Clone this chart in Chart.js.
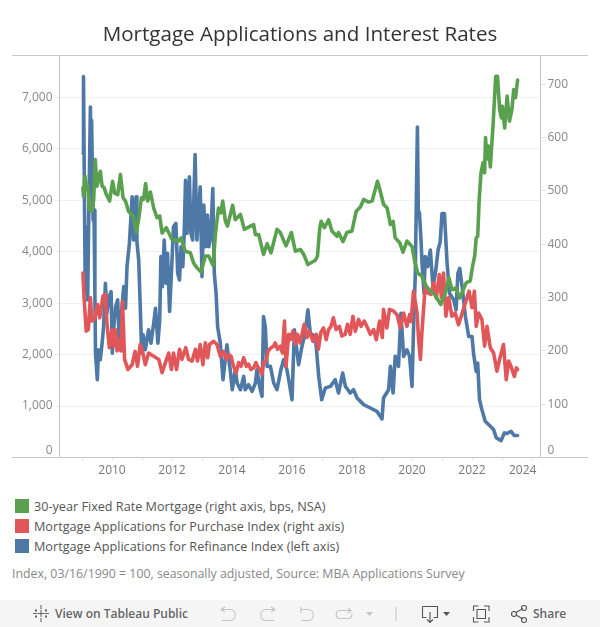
<!DOCTYPE html>
<html>
<head>
<meta charset="utf-8">
<title>Mortgage Applications and Interest Rates</title>
<script src="https://cdn.jsdelivr.net/npm/chart.js@4"></script>
<style>
  html, body { margin: 0; padding: 0; background: #fff; overflow: hidden; }
  body { width: 600px; height: 627px; position: relative; font-family: "Open Sans", sans-serif; }
  #chart { position: absolute; left: 0; top: 0; }
  .title { position: absolute; left: 0; width: 600px; top: 19px; text-align: center; font-size: 20.6px; font-weight: 500; line-height: 28px; color: #333; }
  .rule { position: absolute; left: 12px; width: 576px; height: 1px; background: #c8c8c8; }
  .key { position: absolute; left: 15px; width: 14px; height: 14px; }
  .label { position: absolute; left: 34px; font-size: 12.65px; line-height: 16px; color: #555; white-space: nowrap; }
  .note { position: absolute; left: 12px; top: 566px; font-size: 12.35px; line-height: 16px; color: #888; white-space: nowrap; }
  .bar { position: absolute; left: 0; top: 600px; width: 600px; height: 27px; background: #f5f5f5; }
  .bar span { position: absolute; top: 5px; font-size: 12px; line-height: 17px; color: #666; font-weight: 600; white-space: nowrap; }
  .bar svg { position: absolute; left: 0; top: 0; }
</style>
</head>
<body>
<canvas id="chart" width="600" height="480"></canvas>
<div class="title">Mortgage Applications and Interest Rates</div>
<div class="rule" style="top:55px"></div>
<div class="key" style="top:499px;background:#59a14f"></div>
<div class="label" style="top:498px">30-year Fixed Rate Mortgage (right axis, bps, NSA)</div>
<div class="key" style="top:519px;background:#e15759"></div>
<div class="label" style="top:518px">Mortgage Applications for Purchase Index (right axis)</div>
<div class="key" style="top:539px;background:#4e79a7"></div>
<div class="label" style="top:538px">Mortgage Applications for Refinance Index (left axis)</div>
<div class="note">Index, 03/16/1990 = 100, seasonally adjusted, Source: MBA Applications Survey</div>
<div class="bar">
  <svg width="600" height="27" fill="none" stroke-width="1.1">
    <path d="M41 5v4M41 18v4M33 13.500h4M45 13.500h4M41 10v7M37.500 13.500h7M36 9v3M36 15v3M46 9v3M46 15v3M35 10.500h2M45 10.500h2M35 16.500h2M45 16.500h2" stroke="#666"/>
    <g stroke="#c4c4c4">
      <path d="M225 7l-4 2.500 4 2.500M221 9.500h9c7 0 7 11 0 11h-8"/>
      <path d="M271 7l4 2.500-4 2.500M275 9.500h-9c-7 0-7 11 0 11h8"/>
      <path d="M301 7v6M301 9.500h7c7 0 7 11 0 11h-7"/>
      <path d="M348 8l3 2.500-3 2.500M351 10.500h-11c-5 0-5 8 0 8h8c3 0 4-2 4-5"/>
    </g>
    <path d="M366 12h7l-3.500 4z" fill="#c4c4c4"/>
    <path d="M396 7v14" stroke="#c8c8c8"/>
    <g stroke="#555">
      <path d="M422.500 6.500h15v11h-4M426.500 17.500h-4v-11M430 12v10M427 19.500l3 3 3-3"/>
      <path d="M473.500 11v-5h5M484 6h5v5M489 17v5h-5M478.500 22h-5v-5M477 9.500h8.500v9h-8.500z"/>
      <path d="M516 12.500l7-4M516 15l7 4"/>
      <circle cx="514" cy="14" r="2.500"/><circle cx="524" cy="8" r="2.500"/><circle cx="524" cy="20" r="2.500"/>
    </g>
    <path d="M443 12h7l-3.500 4z" fill="#555"/>
  </svg>
  <span style="left:55px">View on Tableau Public</span>
  <span style="left:533px">Share</span>
</div>
<script>
// [year, bps]
const rateSeries = [[2009.03,506],[2009.05,490],[2009.10,528],[2009.14,503],[2009.19,512],[2009.25,465],[2009.33,462],[2009.39,484],[2009.44,559],[2009.50,509],[2009.55,520],[2009.61,537],[2009.67,509],[2009.74,506],[2009.80,495],[2009.92,481],[2010.02,518],[2010.09,496],[2010.19,493],[2010.28,531],[2010.37,487],[2010.45,481],[2010.55,462],[2010.70,453],[2010.81,423],[2010.89,447],[2010.98,487],[2011.05,484],[2011.12,514],[2011.19,481],[2011.28,498],[2011.39,468],[2011.50,450],[2011.59,453],[2011.67,421],[2011.81,431],[2012.00,409],[2012.22,406],[2012.30,412],[2012.44,387],[2012.61,384],[2012.72,365],[2012.83,356],[2012.97,348],[2013.11,378],[2013.22,378],[2013.37,360],[2013.45,421],[2013.55,468],[2013.63,459],[2013.69,481],[2013.78,443],[2013.85,434],[2014.02,473],[2014.11,446],[2014.28,456],[2014.41,428],[2014.55,432],[2014.72,437],[2014.78,418],[2014.89,418],[2015.05,381],[2015.17,401],[2015.30,384],[2015.50,428],[2015.61,422],[2015.80,397],[2015.98,422],[2016.11,387],[2016.28,390],[2016.39,381],[2016.53,362],[2016.78,370],[2016.85,378],[2016.92,428],[2016.97,443],[2017.08,431],[2017.22,446],[2017.33,425],[2017.50,415],[2017.55,422],[2017.70,405],[2017.83,422],[2018.00,425],[2018.14,462],[2018.28,470],[2018.39,484],[2018.55,479],[2018.67,481],[2018.85,518],[2018.94,500],[2019.05,475],[2019.17,468],[2019.28,437],[2019.37,443],[2019.44,412],[2019.59,403],[2019.70,385],[2019.83,406],[2020.00,396],[2020.08,371],[2020.19,346],[2020.33,340],[2020.48,321],[2020.61,312],[2020.75,306],[2020.96,287],[2021.11,309],[2021.23,337],[2021.33,315],[2021.47,318],[2021.59,299],[2021.81,328],[2021.94,331],[2022.02,359],[2022.09,378],[2022.14,412],[2022.19,415],[2022.24,484],[2022.30,534],[2022.37,553],[2022.42,534],[2022.45,600],[2022.50,560],[2022.55,584],[2022.61,545],[2022.70,622],[2022.79,715],[2022.85,715],[2022.92,653],[2022.98,637],[2023.01,659],[2023.09,618],[2023.17,678],[2023.25,631],[2023.33,653],[2023.39,690],[2023.45,675],[2023.52,708]];

// [year, index]
const purchaseSeries = [[2009.03,346],[2009.07,300],[2009.14,237],[2009.21,240],[2009.28,300],[2009.33,256],[2009.42,259],[2009.52,287],[2009.59,262],[2009.70,303],[2009.78,306],[2009.83,253],[2009.91,206],[2010.00,240],[2010.05,209],[2010.11,240],[2010.17,200],[2010.25,221],[2010.30,200],[2010.35,293],[2010.42,184],[2010.53,165],[2010.67,174],[2010.77,199],[2010.85,171],[2010.94,212],[2011.03,196],[2011.11,174],[2011.22,196],[2011.39,190],[2011.56,184],[2011.67,159],[2011.78,178],[2011.89,196],[2011.98,165],[2012.05,196],[2012.15,165],[2012.25,203],[2012.33,184],[2012.46,206],[2012.55,184],[2012.67,181],[2012.78,203],[2012.85,181],[2012.94,212],[2013.03,174],[2013.11,215],[2013.19,187],[2013.25,212],[2013.39,218],[2013.50,212],[2013.61,190],[2013.72,199],[2013.81,184],[2013.89,193],[2013.97,190],[2014.05,171],[2014.14,159],[2014.22,178],[2014.30,171],[2014.39,187],[2014.48,171],[2014.55,175],[2014.63,165],[2014.72,168],[2014.80,178],[2014.85,171],[2014.92,165],[2015.00,156],[2015.05,178],[2015.13,181],[2015.20,199],[2015.30,206],[2015.39,209],[2015.44,215],[2015.52,203],[2015.61,209],[2015.68,196],[2015.75,256],[2015.80,171],[2015.89,231],[2015.94,221],[2016.03,237],[2016.11,212],[2016.18,231],[2016.27,215],[2016.41,250],[2016.50,225],[2016.58,237],[2016.70,218],[2016.81,231],[2016.88,203],[2016.96,234],[2017.05,243],[2017.14,221],[2017.22,240],[2017.30,246],[2017.38,262],[2017.47,240],[2017.58,246],[2017.66,228],[2017.77,231],[2017.85,250],[2017.94,231],[2018.03,265],[2018.11,237],[2018.22,259],[2018.30,246],[2018.41,256],[2018.52,243],[2018.61,231],[2018.72,240],[2018.81,221],[2018.92,256],[2019.01,225],[2019.05,278],[2019.16,243],[2019.25,278],[2019.38,275],[2019.50,268],[2019.61,243],[2019.72,271],[2019.83,246],[2019.92,268],[2019.97,255],[2020.05,312],[2020.17,271],[2020.22,221],[2020.28,184],[2020.33,234],[2020.44,321],[2020.52,309],[2020.63,306],[2020.72,328],[2020.81,299],[2020.91,343],[2020.98,300],[2021.05,346],[2021.13,265],[2021.22,300],[2021.33,265],[2021.44,271],[2021.55,249],[2021.78,290],[2021.90,312],[2022.00,281],[2022.08,312],[2022.14,246],[2022.22,271],[2022.33,259],[2022.42,209],[2022.50,246],[2022.61,206],[2022.72,196],[2022.83,162],[2022.92,184],[2023.05,212],[2023.14,146],[2023.22,181],[2023.30,171],[2023.41,152],[2023.48,168],[2023.52,165]];

// [year, index]
const refinanceSeries = [[2009.04,5904],[2009.05,7403],[2009.08,5129],[2009.11,3191],[2009.14,4483],[2009.19,3062],[2009.22,4483],[2009.28,6809],[2009.30,5775],[2009.32,6550],[2009.37,4612],[2009.40,4806],[2009.43,3191],[2009.45,2028],[2009.51,1511],[2009.55,2093],[2009.61,1899],[2009.67,2222],[2009.72,2545],[2009.78,3385],[2009.83,2803],[2009.90,3126],[2009.97,3223],[2010.01,2028],[2010.07,2610],[2010.12,2933],[2010.19,3062],[2010.25,2093],[2010.32,2836],[2010.39,3320],[2010.45,2900],[2010.50,3708],[2010.58,4160],[2010.67,5064],[2010.72,4225],[2010.80,5064],[2010.83,4192],[2010.89,3837],[2010.94,2965],[2010.99,2028],[2011.04,2384],[2011.11,2093],[2011.22,2480],[2011.30,2222],[2011.39,2610],[2011.45,2900],[2011.53,2222],[2011.59,2674],[2011.63,3902],[2011.68,3320],[2011.74,4225],[2011.80,3385],[2011.85,3966],[2011.92,2836],[2011.98,3578],[2012.05,4483],[2012.13,4548],[2012.19,3578],[2012.25,3449],[2012.30,4095],[2012.36,3708],[2012.41,4418],[2012.45,5387],[2012.50,4354],[2012.58,5452],[2012.63,4354],[2012.69,4225],[2012.77,5885],[2012.83,4225],[2012.89,4806],[2012.94,5258],[2013.00,3514],[2013.06,4903],[2013.12,4095],[2013.18,4709],[2013.23,4095],[2013.29,4290],[2013.36,5226],[2013.41,3578],[2013.47,3191],[2013.52,2545],[2013.61,2222],[2013.70,1511],[2013.83,2189],[2013.94,1705],[2014.01,1317],[2014.11,1705],[2014.17,1447],[2014.28,1317],[2014.39,1576],[2014.44,1317],[2014.55,1414],[2014.67,1285],[2014.78,1447],[2014.83,1705],[2014.92,1382],[2015.00,1188],[2015.05,2739],[2015.11,2545],[2015.17,1770],[2015.28,1770],[2015.39,1447],[2015.50,1317],[2015.63,1705],[2015.72,1899],[2015.83,1705],[2015.89,1511],[2016.00,1123],[2016.08,2480],[2016.22,1802],[2016.33,2157],[2016.44,2416],[2016.53,2868],[2016.61,2416],[2016.78,2351],[2016.89,1576],[2016.99,1123],[2017.11,1350],[2017.28,1382],[2017.44,1511],[2017.55,1253],[2017.69,1640],[2017.78,1382],[2017.94,1253],[2018.05,1317],[2018.17,1156],[2018.39,1027],[2018.61,962],[2018.83,897],[2019.00,749],[2019.05,1156],[2019.22,1317],[2019.28,1770],[2019.37,1253],[2019.44,1964],[2019.55,1770],[2019.63,2803],[2019.72,1964],[2019.83,2093],[2019.92,1964],[2020.00,1382],[2020.05,2481],[2020.11,3578],[2020.18,6421],[2020.21,4806],[2020.25,4741],[2020.30,4225],[2020.34,3708],[2020.40,3191],[2020.44,3902],[2020.52,3708],[2020.61,4031],[2020.70,3320],[2020.78,3578],[2020.87,4031],[2020.94,4192],[2021.00,4741],[2021.08,4741],[2021.17,3772],[2021.25,3191],[2021.39,3062],[2021.47,2868],[2021.53,3578],[2021.59,3675],[2021.67,3320],[2021.78,2739],[2021.89,2351],[2022.00,2351],[2022.05,2028],[2022.14,1673],[2022.19,1834],[2022.25,1124],[2022.33,930],[2022.44,704],[2022.61,607],[2022.72,542],[2022.81,381],[2022.97,329],[2023.08,478],[2023.17,465],[2023.30,510],[2023.41,426],[2023.52,426]];

const xTickLabels = { 2010: "2010", 2012: "2012", 2014: "2014", 2016: "2016", 2018: "2018", 2020: "2020", 2022: "2022", 2024: "2024      " };
const leftTicks = [0, 1000, 2000, 3000, 4000, 5000, 6000, 7000];
const rightTicks = [0, 100, 200, 300, 400, 500, 600, 700];

const FONT = { family: '"Open Sans", sans-serif', size: 12 };

// zero labels sit just above the baseline in the original
function yLabel(value, text) {
  return value === 0 ? ["0", ""] : text;
}

function series(label, points, color, axis) {
  return {
    label,
    data: points.map(([x, y]) => ({ x, y })),
    yAxisID: axis,
    borderColor: color,
    borderWidth: 3.6,
    borderJoinStyle: "round",
    borderCapStyle: "round",
    pointRadius: 0,
    tension: 0,
  };
}

new Chart(document.getElementById("chart"), {
  type: "line",
  data: {
    // first dataset ends up on top
    datasets: [
      series("30-year Fixed Rate Mortgage", rateSeries, "#59a14f", "yRight"),
      series("Mortgage Applications for Purchase Index", purchaseSeries, "#e15759", "yRight"),
      series("Mortgage Applications for Refinance Index", refinanceSeries, "#4e79a7", "yLeft"),
    ],
  },
  options: {
    responsive: false,
    animation: false,
    layout: { padding: { top: 55, left: 0, right: 0, bottom: 0 } },
    plugins: { legend: { display: false }, tooltip: { enabled: false } },
    scales: {
      x: {
        type: "linear",
        min: 2008.25,
        max: 2024.283,
        border: { color: "#c8c8c8" },
        grid: { drawOnChartArea: false, tickLength: 3, color: "#e2e2e2" },
        ticks: {
          stepSize: 1,
          includeBounds: false,
          autoSkip: false,
          maxRotation: 0,
          padding: 3,
          color: "#777",
          font: FONT,
          callback: (value) => xTickLabels[value] || "",
        },
        afterFit: (scale) => { scale.height = 22.5; scale.paddingLeft = 0; scale.paddingRight = 0; },
      },
      yLeft: {
        position: "left",
        min: 0,
        max: 7820,
        border: { color: "#c8c8c8" },
        grid: { color: "#efefef", tickLength: 5 },
        afterBuildTicks: (scale) => { scale.ticks = leftTicks.map((value) => ({ value })); },
        ticks: {
          padding: 2,
          color: "#888",
          font: FONT,
          callback: (value) => yLabel(value, value.toLocaleString("en-US")),
        },
        afterFit: (scale) => { scale.width = 59.5; },
      },
      yRight: {
        position: "right",
        min: 0,
        max: 755,
        border: { color: "#c8c8c8" },
        grid: { drawOnChartArea: false, color: "#e2e2e2", tickLength: 5 },
        afterBuildTicks: (scale) => { scale.ticks = rightTicks.map((value) => ({ value })); },
        ticks: {
          padding: 2,
          color: "#888",
          font: FONT,
          callback: (value) => yLabel(value, String(value)),
        },
        afterFit: (scale) => { scale.width = 59.5; },
      },
    },
  },
  plugins: [{
    id: "outerRule",
    // baseline runs past both axes, out to the edges of the view
    afterDraw(chart) {
      const { ctx, chartArea } = chart;
      ctx.save();
      ctx.strokeStyle = "#c8c8c8";
      ctx.beginPath();
      ctx.moveTo(12, chartArea.bottom);
      ctx.lineTo(588, chartArea.bottom);
      ctx.stroke();
      ctx.restore();
    },
  }],
});
</script>
</body>
</html>
